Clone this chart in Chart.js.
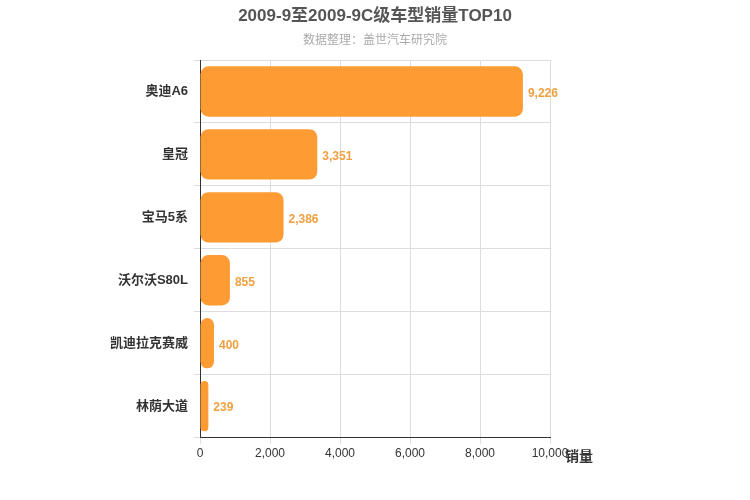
<!DOCTYPE html>
<html><head><meta charset="utf-8">
<script src="https://cdn.jsdelivr.net/npm/chart.js@4/dist/chart.umd.min.js"></script>
<style>body{margin:0;background:#fff}#w{width:750px;height:500px}</style>
</head><body><div id="w"><canvas id="c"></canvas></div>
<script>
const categories=["奥迪A6","皇冠","宝马5系","沃尔沃S80L","凯迪拉克赛威","林荫大道"];
const sales=[9226,3351,2386,855,400,239];
const titleText="2009-9至2009-9C级车型销量TOP10";
const subtitleText="数据整理：盖世汽车研究院";
const axisName="销量";
const font="'Liberation Sans', 'Noto Sans CJK SC', sans-serif";
const labelPlugin={id:'lbl',afterDatasetsDraw(ch){
 const ctx=ch.ctx;const meta=ch.getDatasetMeta(0);
 ctx.save();ctx.font="bold 12px "+font;ctx.fillStyle="#F0A040";ctx.textBaseline="middle";
 meta.data.forEach((b,i)=>{ctx.fillText(sales[i].toLocaleString('en-US'),b.x+5,b.y+2);});
 const xs=ch.scales.x;ctx.fillStyle="#333";ctx.font="bold 14px "+font;
 ctx.fillText(axisName,xs.right+15,xs.top+20);
 ctx.textAlign="center";ctx.fillStyle="#555";ctx.font="bold 17px "+font;
 ctx.fillText(titleText,375,16);
 ctx.fillStyle="#aaa";ctx.font="12px "+font;ctx.fillText(subtitleText,375,41);
 ctx.restore();}};
new Chart(document.getElementById('c'),{type:'bar',
 data:{labels:categories,datasets:[{data:sales,backgroundColor:'#FF9B33',borderRadius:8,borderSkipped:false,barPercentage:0.8,categoryPercentage:1}]},
 options:{indexAxis:'y',responsive:true,maintainAspectRatio:false,animation:false,
  layout:{padding:{left:0,right:200,top:60,bottom:36}},
  plugins:{legend:{display:false},tooltip:{enabled:false}},
  scales:{x:{min:0,max:10000,ticks:{stepSize:2000,color:'#333',font:{size:12,family:font}},grid:{color:'#ddd',tickLength:6},border:{color:'#333'}},
   y:{afterFit(s){s.width=200;},ticks:{color:'#333',font:{size:13,weight:'bold',family:font},padding:6},grid:{color:'#ddd',offset:true,tickLength:6},border:{color:'#333'}}}},
 plugins:[labelPlugin]});
</script></body></html>
